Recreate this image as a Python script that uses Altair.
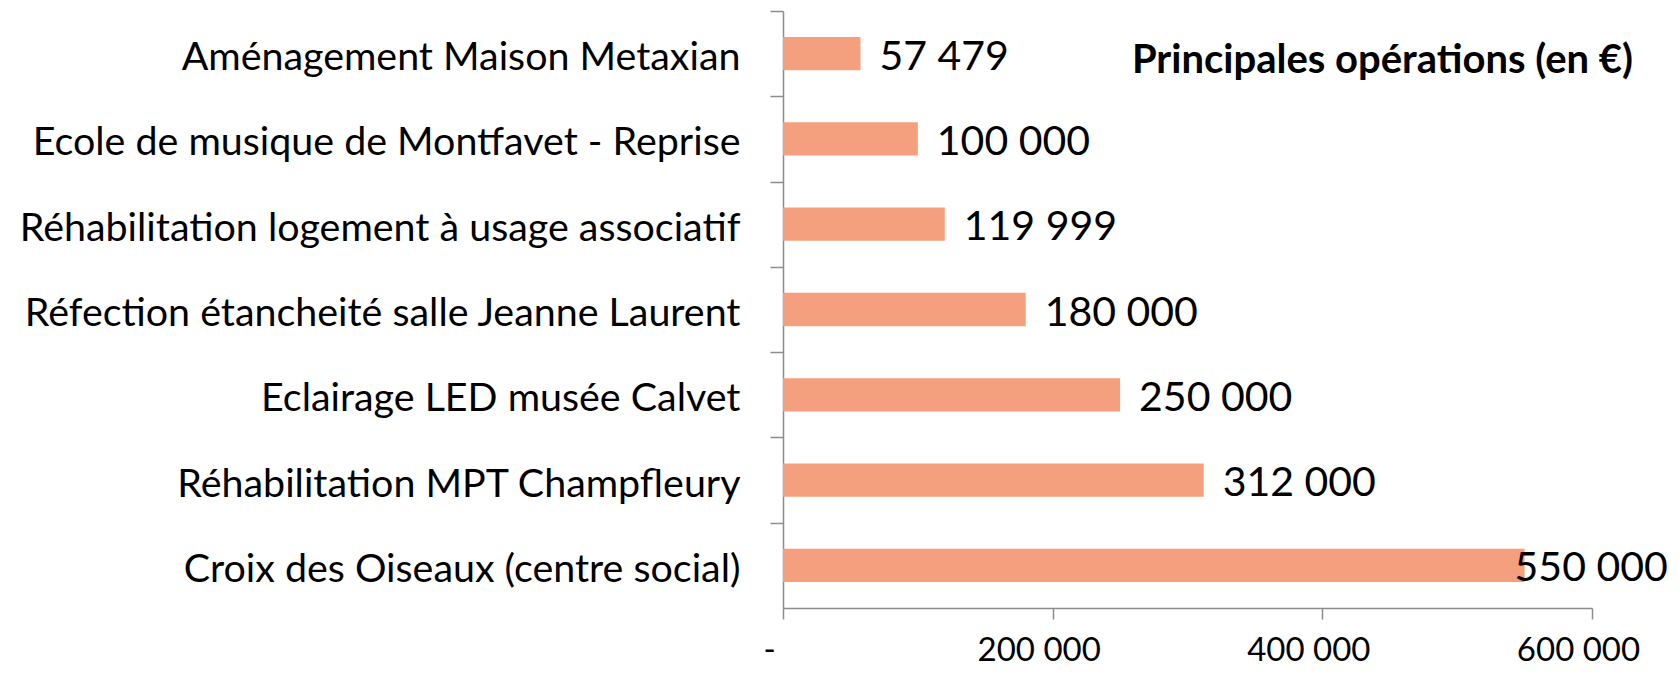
import altair as alt
import pandas as pd

categories = [
    "Aménagement Maison Metaxian",
    "Ecole de musique de Montfavet - Reprise",
    "Réhabilitation logement à usage associatif",
    "Réfection étancheité salle Jeanne Laurent",
    "Eclairage LED musée Calvet",
    "Réhabilitation MPT Champfleury",
    "Croix des Oiseaux (centre social)",
]
values = [57479, 100000, 119999, 180000, 250000, 312000, 550000]
x_ticks = [0, 200000, 400000, 600000]
title_text = "Principales opérations (en €)"

df = pd.DataFrame({"cat": categories, "val": values})

FONT = "Lato"
BAR = "#F4A07E"
AXIS_GREY = "#8C8C8C"
H = 597
STEP = H / len(categories)

base = alt.Chart(df)

y_enc = alt.Y(
    "cat:N",
    sort=None,
    title=None,
    scale=alt.Scale(paddingInner=0.61, paddingOuter=0.305),
    axis=alt.Axis(
        tickOffset=-STEP / 2,
        tickExtra=True,
        tickSize=13,
        tickColor=AXIS_GREY,
        tickWidth=1.5,
        domainColor=AXIS_GREY,
        domainWidth=1.5,
        labelFont=FONT,
        labelFontSize=39.4,
        labelColor="black",
        labelPadding=30,
        labelOffset=STEP / 2 + 4,
        labelLimit=1000,
    ),
)

x_enc = alt.X(
    "val:Q",
    title=None,
    scale=alt.Scale(domain=[0, 600000], nice=False),
    axis=alt.Axis(
        values=x_ticks,
        grid=False,
        tickSize=11,
        tickColor=AXIS_GREY,
        tickWidth=1.5,
        domainColor=AXIS_GREY,
        domainWidth=1.5,
        labelFont=FONT,
        labelFontSize=33,
        labelColor="black",
        labelBaseline="middle",
        labelPadding=31,
        labelOffset=-14,
        labelFlush=False,
        labelExpr="datum.value == 0 ? '-' : replace(format(datum.value, ',d'), ',', ' ')",
    ),
)

bars = base.mark_bar(color=BAR).encode(x=x_enc, y=y_enc)

label_calc = "replace(format(datum.val, ',d'), ',', ' ')"

labels = (
    base.transform_filter("datum.val < 500000")
    .transform_calculate(lbl=label_calc)
    .mark_text(align="left", baseline="middle", dx=19, dy=4, font=FONT, fontSize=41, color="black")
    .encode(x=x_enc, y=y_enc, text="lbl:N")
)

labels_big = (
    base.transform_filter("datum.val >= 500000")
    .transform_calculate(lbl=label_calc)
    .mark_text(align="left", baseline="middle", dx=-10, dy=4, font=FONT, fontSize=41, color="black")
    .encode(x=x_enc, y=y_enc, text="lbl:N")
)

title = (
    alt.Chart(pd.DataFrame({"t": [title_text]}))
    .mark_text(align="right", baseline="middle", font=FONT, fontSize=40, fontWeight="bold", color="black")
    .encode(text="t:N", x=alt.value(850), y=alt.value(50))
)

chart = (
    alt.layer(bars, labels, labels_big, title)
    .properties(
        width=809,
        height=H,
        autosize=alt.AutoSizeParams(type="none"),
        padding={"left": 775, "top": 3, "right": 79, "bottom": 61},
    )
    .configure_view(stroke=None)
)

chart.save("out.html", embed_options={"renderer": "svg", "actions": False})
